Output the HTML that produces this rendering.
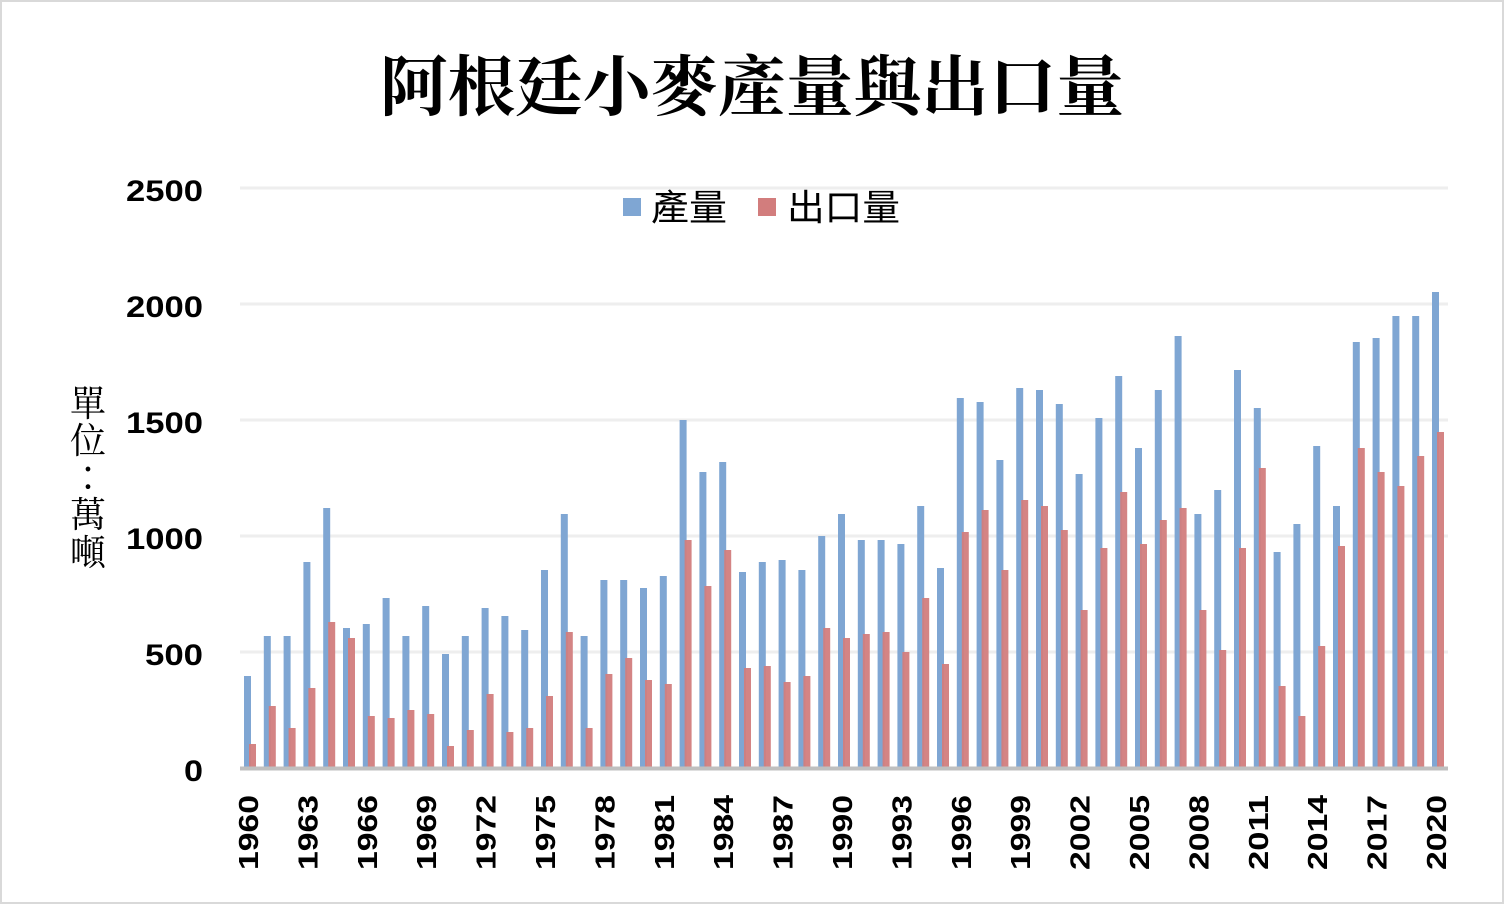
<!DOCTYPE html>
<html><head><meta charset="utf-8"><style>
html,body{margin:0;padding:0;background:#fff;}
svg{display:block;}
</style></head><body>
<svg id="s" width="1504" height="904" xmlns="http://www.w3.org/2000/svg">
<rect x="1" y="1" width="1502" height="902" fill="#fff" stroke="#d9d9d9" stroke-width="2"/>
<text x="380" y="110" textLength="744" lengthAdjust="spacingAndGlyphs" font-family="'Noto Serif CJK SC','Noto Sans CJK TC',serif" font-weight="bold" font-size="66" fill="#000">阿根廷小麥產量與出口量</text>
<g stroke="#eeeeee" stroke-width="3">
<line x1="240" y1="188" x2="1448" y2="188"/>
<line x1="240" y1="304" x2="1448" y2="304"/>
<line x1="240" y1="420" x2="1448" y2="420"/>
<line x1="240" y1="536" x2="1448" y2="536"/>
<line x1="240" y1="652" x2="1448" y2="652"/>
</g>
<g font-family="'Liberation Sans',sans-serif" font-weight="bold" font-size="30" fill="#000">
<text x="126" y="201" textLength="77" lengthAdjust="spacingAndGlyphs">2500</text>
<text x="126" y="317" textLength="77" lengthAdjust="spacingAndGlyphs">2000</text>
<text x="126" y="433" textLength="77" lengthAdjust="spacingAndGlyphs">1500</text>
<text x="126" y="549" textLength="77" lengthAdjust="spacingAndGlyphs">1000</text>
<text x="145" y="665" textLength="58" lengthAdjust="spacingAndGlyphs">500</text>
<text x="184" y="781" textLength="19" lengthAdjust="spacingAndGlyphs">0</text>
</g>
<g font-family="'Noto Serif CJK TC','Noto Sans CJK TC',serif" font-size="36" fill="#000" text-anchor="middle">
<text x="88" y="416">單</text>
<text x="88" y="453">位</text>
<text x="88" y="490">：</text>
<text x="88" y="527">萬</text>
<text x="88" y="565">噸</text>
</g>
<rect x="623" y="198" width="18" height="18" fill="#7fa6d3"/>
<text x="651" y="220" textLength="76" lengthAdjust="spacingAndGlyphs" font-family="'Noto Sans CJK TC',sans-serif" font-size="36" fill="#000">產量</text>
<rect x="758" y="198" width="18" height="18" fill="#d27d7d"/>
<text x="787" y="220" textLength="113" lengthAdjust="spacingAndGlyphs" font-family="'Noto Sans CJK TC',sans-serif" font-size="36" fill="#000">出口量</text>
<g id="bars"></g>
<line x1="240" y1="768.5" x2="1448" y2="768.5" stroke="#bfbfbf" stroke-width="4"/>
<g font-family="'Liberation Sans',sans-serif" font-weight="bold" font-size="28" fill="#000" text-anchor="end">
<text transform="translate(258,795) rotate(-90)" textLength="75" lengthAdjust="spacingAndGlyphs">1960</text>
<text transform="translate(317.4,795) rotate(-90)" textLength="75" lengthAdjust="spacingAndGlyphs">1963</text>
<text transform="translate(376.8,795) rotate(-90)" textLength="75" lengthAdjust="spacingAndGlyphs">1966</text>
<text transform="translate(436.2,795) rotate(-90)" textLength="75" lengthAdjust="spacingAndGlyphs">1969</text>
<text transform="translate(495.6,795) rotate(-90)" textLength="75" lengthAdjust="spacingAndGlyphs">1972</text>
<text transform="translate(555,795) rotate(-90)" textLength="75" lengthAdjust="spacingAndGlyphs">1975</text>
<text transform="translate(614.4,795) rotate(-90)" textLength="75" lengthAdjust="spacingAndGlyphs">1978</text>
<text transform="translate(673.8,795) rotate(-90)" textLength="75" lengthAdjust="spacingAndGlyphs">1981</text>
<text transform="translate(733.2,795) rotate(-90)" textLength="75" lengthAdjust="spacingAndGlyphs">1984</text>
<text transform="translate(792.6,795) rotate(-90)" textLength="75" lengthAdjust="spacingAndGlyphs">1987</text>
<text transform="translate(852,795) rotate(-90)" textLength="75" lengthAdjust="spacingAndGlyphs">1990</text>
<text transform="translate(911.4,795) rotate(-90)" textLength="75" lengthAdjust="spacingAndGlyphs">1993</text>
<text transform="translate(970.8,795) rotate(-90)" textLength="75" lengthAdjust="spacingAndGlyphs">1996</text>
<text transform="translate(1030.2,795) rotate(-90)" textLength="75" lengthAdjust="spacingAndGlyphs">1999</text>
<text transform="translate(1089.6,795) rotate(-90)" textLength="75" lengthAdjust="spacingAndGlyphs">2002</text>
<text transform="translate(1149,795) rotate(-90)" textLength="75" lengthAdjust="spacingAndGlyphs">2005</text>
<text transform="translate(1208.4,795) rotate(-90)" textLength="75" lengthAdjust="spacingAndGlyphs">2008</text>
<text transform="translate(1267.8,795) rotate(-90)" textLength="75" lengthAdjust="spacingAndGlyphs">2011</text>
<text transform="translate(1327.2,795) rotate(-90)" textLength="75" lengthAdjust="spacingAndGlyphs">2014</text>
<text transform="translate(1386.6,795) rotate(-90)" textLength="75" lengthAdjust="spacingAndGlyphs">2017</text>
<text transform="translate(1446,795) rotate(-90)" textLength="75" lengthAdjust="spacingAndGlyphs">2020</text>
</g>
</svg>
<script>
var B=[676,636,636,562,508,628,624,598,636,606,654,636,608,616,630,570,514,636,580,580,588,576,420,472,462,572,562,560,570,536,514,540,540,544,506,568,398,402,460,388,390,404,474,418,376,448,390,336,514,490,370,408,552,524,446,506,342,338,316,316,292];
var R=[744,706,728,688,622,638,716,718,710,714,746,730,694,732,728,696,632,728,674,658,680,684,540,586,550,668,666,682,676,628,638,634,632,652,598,664,532,510,570,500,506,530,610,548,492,544,520,508,610,650,548,468,686,716,646,546,448,472,486,456,432];
var g=document.getElementById('bars'),h='';
for(var i=0;i<61;i++){var x=244+19.8*i;
h+='<rect x="'+x.toFixed(1)+'" y="'+B[i]+'" width="7" height="'+(768-B[i])+'" fill="#7fa6d3"/>';
h+='<rect x="'+(x+5).toFixed(1)+'" y="'+R[i]+'" width="7" height="'+(768-R[i])+'" fill="#d27d7d" fill-opacity="0.95"/>';}
g.innerHTML=h;
</script>
</body></html>
